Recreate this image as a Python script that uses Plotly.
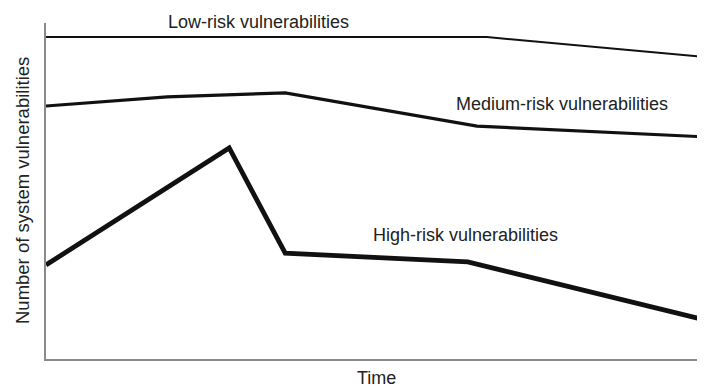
import plotly.graph_objects as go

# Data (time as percentage of the observed period, values as relative counts)
low_time = [0, 66.9, 100]
low_values = [95.8, 95.8, 89.9]

medium_time = [0, 18.4, 36.3, 65.4, 100]
medium_values = [75.3, 78.0, 79.2, 69.3, 66.1]

high_time = [0, 27.8, 36.3, 64.0, 100]
high_values = [28.0, 62.8, 31.5, 28.9, 11.6]

series_labels = ["Low-risk vulnerabilities", "Medium-risk vulnerabilities", "High-risk vulnerabilities"]
label_pos = [(0.322, 1.003), (0.783, 0.759), (0.637, 0.369)]  # paper coordinates

FONT = "Liberation Sans, Arial, Helvetica, sans-serif"
TXT = "#222222"

fig = go.Figure()
fig.add_trace(go.Scatter(x=low_time, y=low_values, mode="lines",
                         line=dict(color="#111111", width=2), cliponaxis=False))
fig.add_trace(go.Scatter(x=medium_time, y=medium_values, mode="lines",
                         line=dict(color="#111111", width=3.2), cliponaxis=False))
fig.add_trace(go.Scatter(x=high_time, y=high_values, mode="lines",
                         line=dict(color="#111111", width=4.8), cliponaxis=False))

for text, (x, y) in zip(series_labels, label_pos):
    fig.add_annotation(xref="paper", yref="paper", x=x, y=y, text=text, showarrow=False,
                       xanchor="center", yanchor="middle",
                       font=dict(family=FONT, size=18, color=TXT))

# axis titles
fig.add_annotation(xref="paper", yref="paper", x=0.502, y=-0.0565, text="Time",
                   showarrow=False, xanchor="center", yanchor="middle",
                   font=dict(family=FONT, size=18, color=TXT))
fig.add_annotation(xref="paper", yref="paper", x=-0.0364, y=0.5,
                   text="Number of system vulnerabilities", textangle=-90,
                   showarrow=False, xanchor="center", yanchor="middle",
                   font=dict(family=FONT, size=18.5, color=TXT))

# figure is offset by the page's 8px body margin, so size/margins compensate
fig.update_layout(
    width=697, height=380,
    margin=dict(l=38, r=0, t=15, b=29, autoexpand=False),
    paper_bgcolor="white", plot_bgcolor="white",
    showlegend=False,
    font=dict(family=FONT, size=18, color=TXT),
)
fig.update_xaxes(range=[0, 100], showline=True, linecolor="#8a8a8a", linewidth=2,
                 showgrid=False, zeroline=False, showticklabels=False, ticks="")
fig.update_yaxes(range=[0, 100], showline=True, linecolor="#8a8a8a", linewidth=2,
                 showgrid=False, zeroline=False, showticklabels=False, ticks="")

fig.write_html("out.html")
